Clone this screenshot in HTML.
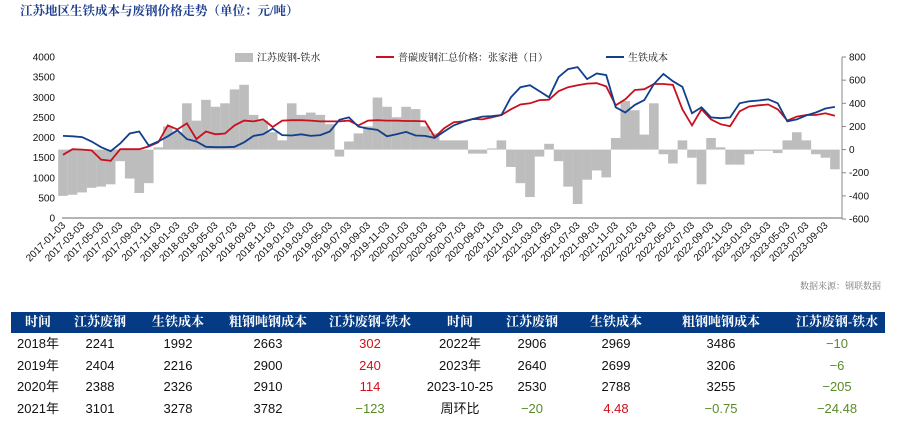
<!DOCTYPE html>
<html><head><meta charset="utf-8">
<style>
body{margin:0;background:#fff;width:897px;height:425px;overflow:hidden;position:relative;font-family:"Liberation Sans","Noto Sans CJK SC",sans-serif}
.t{position:absolute;transform:translateX(-50%);white-space:nowrap;font-size:13px;line-height:14px;height:14px;color:#111}
.h{position:absolute;transform:translateX(-50%);white-space:nowrap;font-size:13px;line-height:14px;height:14px;color:#fff;font-weight:bold;font-family:"Liberation Serif","Noto Serif CJK SC",serif;top:315px}
.red{color:#d0101a}.grn{color:#5a8a2a}
</style></head><body>
<div style="position:absolute;left:20px;top:1px;font-size:12.5px;font-weight:bold;color:#1f3f8f;font-family:'Liberation Serif','Noto Serif CJK SC',serif">江苏地区生铁成本与废钢价格走势（单位：元/吨）</div>
<svg id="chart" width="897" height="300" style="position:absolute;left:0;top:0"></svg>
<div style="position:absolute;left:11px;top:312px;width:874px;height:21px;background:#043b84"></div>
<div id="tbl"></div>
<script>
const months = ["2017-01-03","2017-03-03","2017-05-03","2017-07-03","2017-09-03","2017-11-03","2018-01-03","2018-03-03","2018-05-03","2018-07-03","2018-09-03","2018-11-03","2019-01-03","2019-03-03","2019-05-03","2019-07-03","2019-09-03","2019-11-03","2020-01-03","2020-03-03","2020-05-03","2020-07-03","2020-09-03","2020-11-03","2021-01-03","2021-03-03","2021-05-03","2021-07-03","2021-09-03","2021-11-03","2022-01-03","2022-03-03","2022-05-03","2022-07-03","2022-09-03","2022-11-03","2023-01-03","2023-03-03","2023-05-03","2023-07-03","2023-09-03"];
const leftTicks = [0,500,1000,1500,2000,2500,3000,3500,4000];
const rightTicks = [-600,-400,-200,0,200,400,600,800];
const pigIron = [2040,2030,2010,1900,1760,1660,1850,2100,2150,1800,1900,2030,2180,1960,1900,1770,1760,1760,1770,1880,2040,2080,2220,2060,2050,2080,2040,2060,2150,2440,2500,2270,2220,2190,2030,2080,2140,2050,2040,1990,2150,2300,2390,2460,2520,2530,2560,3000,3250,3300,3150,3000,3500,3700,3750,3450,3590,3550,2750,2620,2810,2930,3330,3580,3400,3260,2600,2750,2500,2480,2500,2850,2900,2920,2950,2850,2400,2450,2550,2620,2720,2760];
const scrap = [1570,1710,1700,1680,1450,1420,1710,1710,1710,1780,1880,2300,2200,2350,1960,2150,2080,2100,2300,2420,2400,2450,2260,2420,2430,2430,2420,2400,2400,2400,2420,2300,2420,2430,2420,2420,2410,2410,2400,2010,2230,2380,2400,2460,2450,2500,2560,2700,2820,2850,2930,2940,3150,3250,3300,3340,3350,3270,2800,2950,3180,3200,3330,3330,3310,2700,2300,2700,2450,2330,2280,2650,2770,2800,2820,2700,2420,2520,2560,2560,2600,2540];
const spread = [-400,-390,-370,-330,-320,-300,-100,-250,-375,-290,20,200,150,400,250,430,370,400,520,560,300,250,150,80,400,300,320,300,220,-60,70,140,200,450,370,280,370,350,200,140,80,80,80,-35,-35,10,80,-150,-290,-410,-60,50,-100,-320,-470,-260,-180,-240,100,420,340,130,400,-40,-120,80,-70,-300,100,20,-130,-130,-40,-10,-10,-30,80,150,80,-40,-70,-170];
const NS="http://www.w3.org/2000/svg";
const svg=document.getElementById('chart');
const X0=63, PXM=9.53;
const xm=m=>X0+m*PXM;
const yL=v=>218-v/4000*161;
const yR=v=>149.6-v/8.64;
function el(tag,attrs,txt){const e=document.createElementNS(NS,tag);for(const k in attrs)e.setAttribute(k,attrs[k]);if(txt!==undefined)e.textContent=txt;svg.appendChild(e);return e;}
spread.forEach((v,i)=>{
  const y0=yR(0), y1=yR(v);
  const b=el('rect',{x:xm(i)-4.8,y:Math.min(y0,y1),width:9.6,height:Math.abs(y1-y0),fill:'#bdbdbd'});
  
  
});
const ax=el('line',{x1:62,y1:218,x2:842,y2:218,stroke:'#888','stroke-width':1.2});


const ra=el('line',{x1:842,y1:yR(800),x2:842,y2:yR(-600),stroke:'#888','stroke-width':1});


leftTicks.forEach(v=>{
  const t=el('text',{x:55,y:yL(v)+3.5,'text-anchor':'end','font-size':10,fill:'#111'},String(v));
  
  
});
rightTicks.forEach(v=>{
  el('line',{x1:842,y1:yR(v),x2:846,y2:yR(v),stroke:'#888'});
  const t=el('text',{x:849,y:yR(v)+3.5,'font-size':10,fill:'#111'},String(v));
  
  
});
months.forEach((s,i)=>{
  const x=xm(i*2)+3;
  const t=el('text',{x:x,y:226,'text-anchor':'end','font-size':10,fill:'#111',transform:`rotate(-45 ${x} 226)`},s);
  
  
});
function line(arr,color,name){
  const d=arr.map((v,i)=>(i?'L':'M')+xm(i).toFixed(1)+','+yL(v).toFixed(1)).join('');
  const p=el('path',{d:d,fill:'none',stroke:color,'stroke-width':1.8});
  
  
}
line(scrap,'#c8101e','scrap-price-line');
line(pigIron,'#123f8c','pig-iron-cost-line');
const lf='"Liberation Serif","Noto Serif CJK SC",serif';
el('rect',{x:235,y:53,width:18,height:9,fill:'#bdbdbd'});
let lg=el('text',{x:257,y:61,'font-size':10,fill:'#111','font-family':lf},'江苏废钢-铁水');


el('line',{x1:376,y1:57,x2:394,y2:57,stroke:'#c8101e','stroke-width':2});
lg=el('text',{x:398,y:61,'font-size':10,fill:'#111','font-family':lf},'普碳废钢汇总价格：张家港（日）');


el('line',{x1:606,y1:57,x2:624,y2:57,stroke:'#123f8c','stroke-width':2});
lg=el('text',{x:628,y:61,'font-size':10,fill:'#111','font-family':lf},'生铁成本');


lg=el('text',{x:800,y:289,'font-size':9,fill:'#777','font-family':lf},'数据来源：钢联数据');


const cols=[38,100,178,268,370,460,532,616,721,837];
const heads=["时间","江苏废钢","生铁成本","粗钢吨钢成本","江苏废钢-铁水","时间","江苏废钢","生铁成本","粗钢吨钢成本","江苏废钢-铁水"];
const rows=[
 [["2018年"],["2241"],["1992"],["2663"],["302","red"],["2022年"],["2906"],["2969"],["3486"],["−10","grn"]],
 [["2019年"],["2404"],["2216"],["2900"],["240","red"],["2023年"],["2640"],["2699"],["3206"],["−6","grn"]],
 [["2020年"],["2388"],["2326"],["2910"],["114","red"],["2023-10-25"],["2530"],["2788"],["3255"],["−205","grn"]],
 [["2021年"],["3101"],["3278"],["3782"],["−123","grn"],["周环比"],["−20","grn"],["4.48","red"],["−0.75","grn"],["−24.48","grn"]]
];
const tb=document.getElementById('tbl');
heads.forEach((h,i)=>{
  const d=document.createElement('div');d.className='h';d.style.left=cols[i]+'px';d.textContent=h;
  
  
  tb.appendChild(d);
});
const rowY=[337,359,380,402];
rows.forEach((r,ri)=>r.forEach((c,ci)=>{
  const d=document.createElement('div');d.className='t'+(c[1]?' '+c[1]:'');
  d.style.left=cols[ci]+'px';d.style.top=rowY[ri]+'px';d.textContent=c[0];
  
  
  tb.appendChild(d);
}));
</script>
</body></html>
